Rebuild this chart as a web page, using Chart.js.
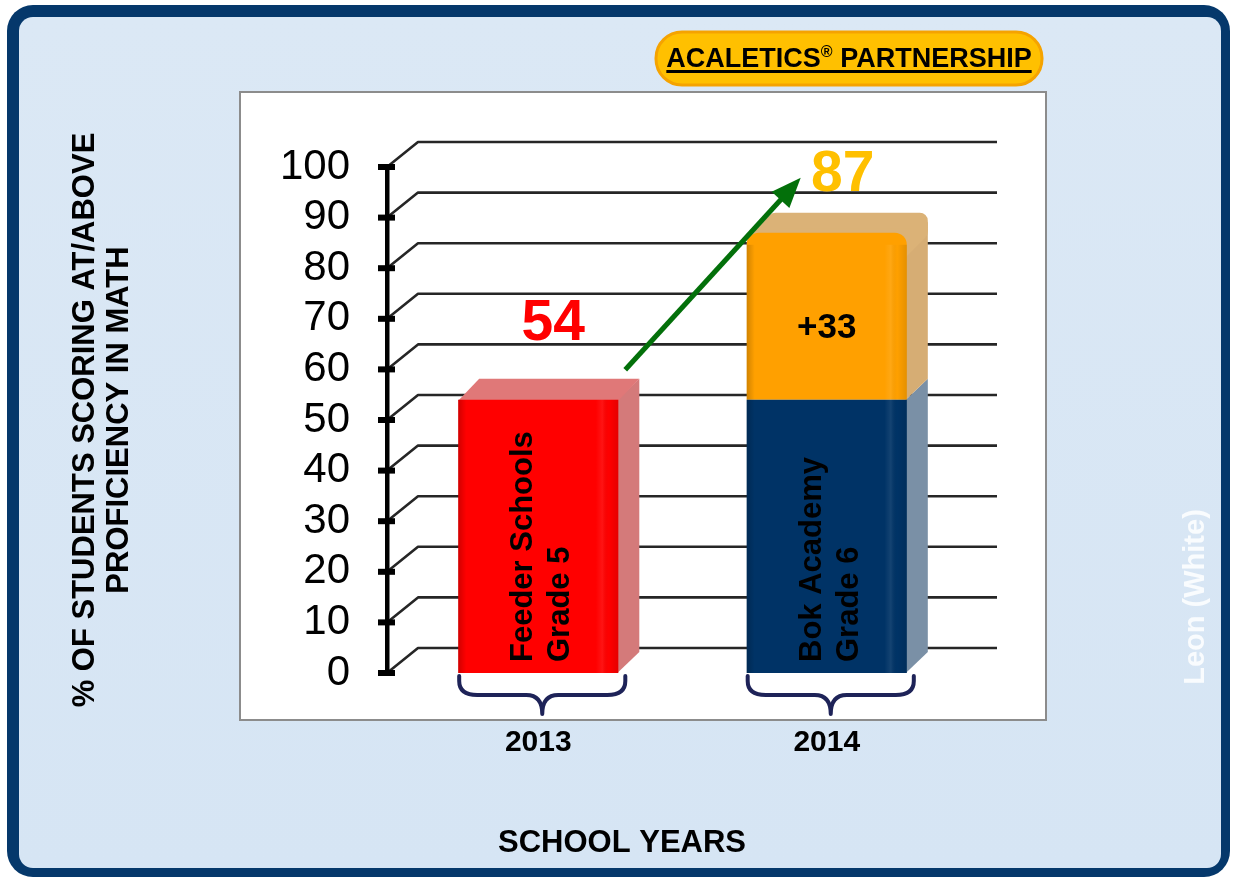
<!DOCTYPE html>
<html><head><meta charset="utf-8">
<script src="https://cdn.jsdelivr.net/npm/chart.js@4.4.0/dist/chart.umd.min.js"></script>
<style>html,body{margin:0;padding:0;background:#fff;overflow:hidden}#wrap{width:1233px;height:877px;position:relative}canvas{display:block}</style>
</head><body><div id="wrap"><canvas id="c" width="1233" height="877"></canvas></div>
<script>
// ---- data ----
const categories = ['2013', '2014'];
const baseValues = [54, 54];
const gainValues = [null, 33];
const totalValues = [54, 87];
const gainLabels = ['', '+33'];
const barTextLines = [['Feeder Schools', 'Grade 5'], ['Bok Academy', 'Grade 6']];
const yTickValues = [0, 10, 20, 30, 40, 50, 60, 70, 80, 90, 100];
const yTitleLines = ['% OF STUDENTS SCORING AT/ABOVE', 'PROFICIENCY IN MATH'];
const xTitle = 'SCHOOL YEARS';
const badgeParts = ['ACALETICS', '\u00AE', ' PARTNERSHIP'];
const sideNote = 'Leon (White)';

// ---- styles ----
const FONT = '"Liberation Sans", Arial, sans-serif';
const baseColors = ['#ff0000', '#003366'];
const baseTopColors = ['#e07878', '#5d7895'];
const baseSideColors = ['#d47a7a', '#7a90a6'];
const gainColor = '#ffa000';
const gainTopColor = '#dbb277';
const gainSideColor = '#d6ad74';
const DX = 21, DY = -21;

function roundRect(ctx, x, y, w, h, r) {
  ctx.beginPath();
  ctx.moveTo(x + r, y);
  ctx.lineTo(x + w - r, y);
  ctx.arcTo(x + w, y, x + w, y + r, r);
  ctx.lineTo(x + w, y + h - r);
  ctx.arcTo(x + w, y + h, x + w - r, y + h, r);
  ctx.lineTo(x + r, y + h);
  ctx.arcTo(x, y + h, x, y + h - r, r);
  ctx.lineTo(x, y + r);
  ctx.arcTo(x, y, x + r, y, r);
  ctx.closePath();
}

const decor = {
  id: 'decor',
  beforeDraw(chart) {
    const ctx = chart.ctx;
    ctx.save();
    ctx.fillStyle = '#ffffff';
    ctx.fillRect(0, 0, chart.width, chart.height);
    // frame
    ctx.fillStyle = '#05386b';
    roundRect(ctx, 7, 5, 1223, 872, 26); ctx.fill();
    const g = ctx.createLinearGradient(0, 17, 0, 868);
    g.addColorStop(0, '#dbe8f5'); g.addColorStop(1, '#d6e5f4');
    ctx.fillStyle = g;
    roundRect(ctx, 19, 17, 1202, 851, 14); ctx.fill();
    // white plot box
    ctx.fillStyle = '#ffffff';
    ctx.fillRect(240, 92, 806, 628);
    ctx.strokeStyle = '#8c8c8c'; ctx.lineWidth = 2;
    ctx.strokeRect(240, 92, 806, 628);
    // badge
    ctx.fillStyle = '#ffc000';
    roundRect(ctx, 656, 32, 386, 53, 26); ctx.fill();
    ctx.strokeStyle = '#f5a300'; ctx.lineWidth = 3; ctx.stroke();
    ctx.fillStyle = '#000';
    ctx.textBaseline = 'alphabetic'; ctx.textAlign = 'left';
    const f1 = 'bold 27px ' + FONT, f2 = 'bold 16px ' + FONT;
    ctx.font = f1; const w1 = ctx.measureText(badgeParts[0]).width;
    const w3 = ctx.measureText(badgeParts[2]).width;
    ctx.font = f2; const w2 = ctx.measureText(badgeParts[1]).width;
    const total = w1 + w2 + w3;
    let bx = 849 - total / 2; const by = 67;
    ctx.font = f1; ctx.fillText(badgeParts[0], bx, by);
    ctx.font = f2; ctx.fillText(badgeParts[1], bx + w1, by - 10);
    ctx.font = f1; ctx.fillText(badgeParts[2], bx + w1 + w2, by);
    ctx.fillRect(bx, by + 3, total, 3);
    // side note
    ctx.save();
    ctx.translate(1196, 597); ctx.rotate(-Math.PI / 2);
    ctx.fillStyle = 'rgba(255,255,255,0.85)';
    ctx.font = 'bold 29px ' + FONT; ctx.textAlign = 'center'; ctx.textBaseline = 'middle';
    ctx.fillText(sideNote, 0, 0);
    ctx.restore();
    // axis titles
    ctx.fillStyle = '#000';
    ctx.font = 'bold 31px ' + FONT;
    ctx.textAlign = 'center'; ctx.textBaseline = 'middle';
    ctx.fillText(xTitle, 622, 843);
    ctx.save();
    ctx.translate(85, 420); ctx.rotate(-Math.PI / 2);
    yTitleLines.forEach((t, i) => ctx.fillText(t, 0, i * 34));
    ctx.restore();
    ctx.restore();
  },
  beforeDatasetsDraw(chart) {
    const ctx = chart.ctx, area = chart.chartArea, yS = chart.scales.y;
    const axisX = area.left - 7;
    ctx.save();
    // 3D gridlines
    ctx.strokeStyle = '#262626'; ctx.lineWidth = 2.6; ctx.lineJoin = 'round';
    for (const v of yTickValues) {
      const py = yS.getPixelForValue(v);
      ctx.beginPath();
      ctx.moveTo(axisX, py);
      ctx.lineTo(axisX + 31, py - 25);
      ctx.lineTo(area.right + 26, py - 25);
      ctx.stroke();
    }
    // axis line + ticks
    ctx.fillStyle = '#000';
    const yTop = yS.getPixelForValue(100), yBot = yS.getPixelForValue(0);
    ctx.fillRect(axisX - 2, yTop - 2, 4.5, yBot - yTop + 5);
    for (const v of yTickValues) {
      const py = yS.getPixelForValue(v);
      ctx.fillRect(axisX - 9, py - 3, 17, 6);
    }
    // bar side and top faces
    const m0 = chart.getDatasetMeta(0), m1 = chart.getDatasetMeta(1);
    m0.data.forEach((bar, i) => {
      const l = bar.x - bar.width / 2, r = bar.x + bar.width / 2;
      const top = bar.y, base = bar.base;
      ctx.fillStyle = baseSideColors[i];
      ctx.beginPath();
      ctx.moveTo(r - 1, top); ctx.lineTo(r + DX, top + DY);
      ctx.lineTo(r + DX, base + DY); ctx.lineTo(r - 1, base); ctx.closePath(); ctx.fill();
      const g = m1.data[i];
      if (gainValues[i] == null) {
        ctx.fillStyle = baseTopColors[i];
        ctx.beginPath();
        ctx.moveTo(l, top + 1); ctx.lineTo(l + DX, top + DY);
        ctx.lineTo(r + DX, top + DY); ctx.lineTo(r, top + 1); ctx.closePath(); ctx.fill();
      } else {
        const gt = g.y, gb = g.base;
        ctx.fillStyle = gainSideColor;
        ctx.beginPath();
        ctx.moveTo(r - 1, gt + 10); ctx.lineTo(r + DX, gt + DY + 10);
        ctx.lineTo(r + DX, gb + DY); ctx.lineTo(r - 1, gb); ctx.closePath(); ctx.fill();
        ctx.fillStyle = gainTopColor; ctx.strokeStyle = gainTopColor;
        ctx.lineWidth = 16; ctx.lineJoin = 'round';
        ctx.beginPath();
        ctx.moveTo(l + 8, gt + 10); ctx.lineTo(l + DX + 8, gt + DY + 9);
        ctx.lineTo(r + DX - 8, gt + DY + 9); ctx.lineTo(r + DX - 8, gt + DY + 20);
        ctx.lineTo(r - 8, gt + 20); ctx.closePath(); ctx.fill(); ctx.stroke();
      }
    });
    ctx.restore();
  },
  afterDatasetsDraw(chart) {
    const ctx = chart.ctx;
    const m0 = chart.getDatasetMeta(0), m1 = chart.getDatasetMeta(1);
    ctx.save();
    // subtle edge shading on front faces
    m0.data.forEach((bar, i) => {
      const l = bar.x - bar.width / 2, r = bar.x + bar.width / 2;
      const topY = gainValues[i] == null ? bar.y : m1.data[i].y + 12;
      const gr = ctx.createLinearGradient(l, 0, r, 0);
      gr.addColorStop(0, 'rgba(0,0,0,0.18)'); gr.addColorStop(0.05, 'rgba(0,0,0,0)');
      gr.addColorStop(0.86, 'rgba(255,255,255,0)'); gr.addColorStop(0.9, 'rgba(255,255,255,0.08)');
      gr.addColorStop(0.94, 'rgba(0,0,0,0)'); gr.addColorStop(1, 'rgba(0,0,0,0.10)');
      ctx.fillStyle = gr; ctx.fillRect(l, topY, r - l, bar.base - topY);
    });
    // text inside bars
    ctx.fillStyle = '#000';
    ctx.font = 'bold 31px ' + FONT;
    ctx.textAlign = 'left'; ctx.textBaseline = 'alphabetic';
    m0.data.forEach((bar, i) => {
      ctx.save();
      ctx.translate(bar.x - 6, bar.base - 11);
      ctx.rotate(-Math.PI / 2);
      barTextLines[i].forEach((t, j) => ctx.fillText(t, 0, j * 37));
      ctx.restore();
    });
    // value labels
    ctx.textAlign = 'center';
    const b0 = m0.data[0], b1 = m1.data[1];
    ctx.font = 'bold 57px ' + FONT; ctx.fillStyle = '#ff0000';
    ctx.fillText(String(totalValues[0]), b0.x + 15, b0.y - 60);
    ctx.fillStyle = '#ffc000';
    ctx.fillText(String(totalValues[1]), b1.x + 16, b1.y - 42);
    ctx.font = 'bold 35px ' + FONT; ctx.fillStyle = '#000';
    ctx.fillText(gainLabels[1], b1.x, (b1.y + b1.base) / 2 + 22);
    // arrow
    const sx = b0.x + 87, sy = b0.y - 30, ex = b1.x - 26, ey = b1.y - 55;
    const ang = Math.atan2(ey - sy, ex - sx);
    const hl = 30, hw = 12;
    const bxp = ex - hl * Math.cos(ang), byp = ey - hl * Math.sin(ang);
    ctx.strokeStyle = '#03700a'; ctx.fillStyle = '#03700a'; ctx.lineWidth = 5;
    ctx.beginPath(); ctx.moveTo(sx, sy); ctx.lineTo(bxp + 4 * Math.cos(ang), byp + 4 * Math.sin(ang)); ctx.stroke();
    ctx.beginPath(); ctx.moveTo(ex, ey);
    ctx.lineTo(bxp + hw * Math.sin(ang), byp - hw * Math.cos(ang));
    ctx.lineTo(bxp - hw * Math.sin(ang), byp + hw * Math.cos(ang));
    ctx.closePath(); ctx.fill();
    // braces
    ctx.strokeStyle = '#1e2358'; ctx.lineWidth = 4; ctx.lineCap = 'round'; ctx.lineJoin = 'round';
    m0.data.forEach((bar) => {
      const l = bar.x - bar.width / 2 + 1, r = bar.x + bar.width / 2 + 7, c = (l + r) / 2;
      const yt = bar.base + 3, ym = bar.base + 22, yb = bar.base + 41;
      ctx.beginPath();
      ctx.moveTo(l, yt); ctx.lineTo(l, ym - 14);
      ctx.quadraticCurveTo(l, ym, l + 18, ym);
      ctx.lineTo(c - 16, ym);
      ctx.quadraticCurveTo(c, ym, c, yb);
      ctx.quadraticCurveTo(c, ym, c + 16, ym);
      ctx.lineTo(r - 18, ym);
      ctx.quadraticCurveTo(r, ym, r, ym - 14);
      ctx.lineTo(r, yt);
      ctx.stroke();
    });
    ctx.restore();
  }
};

new Chart(document.getElementById('c'), {
  type: 'bar',
  data: {
    labels: categories,
    datasets: [
      { label: 'Base', data: baseValues, backgroundColor: baseColors, borderWidth: 0, stack: 's' },
      { label: 'Gain', data: gainValues, backgroundColor: gainColor, borderWidth: 0, stack: 's',
        borderRadius: { topLeft: 12, topRight: 12, bottomLeft: 0, bottomRight: 0 }, borderSkipped: false }
    ]
  },
  options: {
    responsive: false, animation: false, devicePixelRatio: 1,
    layout: { padding: { top: 167, right: 262, left: 0, bottom: 0 } },
    datasets: { bar: { barPercentage: 0.555, categoryPercentage: 1 } },
    plugins: { legend: { display: false }, tooltip: { enabled: false } },
    scales: {
      x: {
        stacked: true, offset: true,
        grid: { display: false, drawTicks: false }, border: { display: false },
        ticks: { color: '#000', font: { family: FONT, size: 30, weight: 'bold' }, padding: 52 },
        afterFit(s) { s.height = 204; }
      },
      y: {
        stacked: true, min: 0, max: 100,
        grid: { display: false, drawTicks: false }, border: { display: false },
        afterBuildTicks(s) { s.ticks = yTickValues.map(v => ({ value: v })); },
        ticks: { color: '#000', font: { family: FONT, size: 42 }, padding: 44, autoSkip: false },
        afterFit(s) { s.width = 394; }
      }
    }
  },
  plugins: [decor]
});
</script>
</body></html>
